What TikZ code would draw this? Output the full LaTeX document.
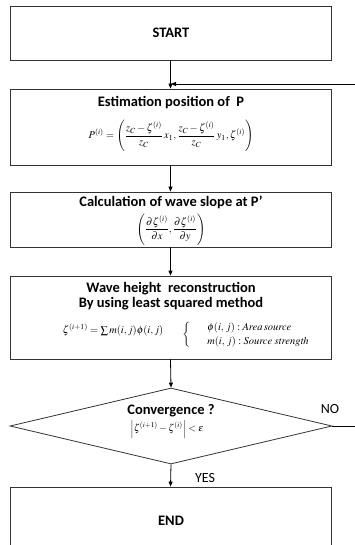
\documentclass[tikz,border=0pt]{standalone}
\usepackage{mathptmx}
\usepackage{amsmath}
\usepackage{fontspec}
\setmainfont{Carlito}
\usetikzlibrary{arrows.meta,shapes.geometric}
\begin{document}
\begin{tikzpicture}[x=1pt,y=-1pt,
  line width=0.8pt,
  box/.style={draw=black!80,rectangle,minimum width=321pt,inner sep=0pt},
  ttl/.style={font=\fontsize{14.5}{16}\selectfont\bfseries,inner sep=0pt},
  lbl/.style={font=\fontsize{14}{16}\selectfont,inner sep=0pt},
  mth/.style={font=\fontsize{10.5}{12.5}\selectfont,inner sep=0pt},
  arr/.style={draw=black,-{Triangle[length=5pt,width=4pt]}}]
\useasboundingbox (0,0) rectangle (355,545);
\clip (0,0) rectangle (355,545);
% boxes
\node[box,minimum height=54pt] (start) at (170.5,33) {};
\node[box,minimum height=76pt] (est) at (170.5,127) {};
\node[box,minimum height=55pt] (slope) at (170.5,219.5) {};
\node[box,minimum height=83pt] (wave) at (170.5,317.5) {};
\node[draw=black!80,diamond,minimum width=322pt,minimum height=76pt,inner sep=0pt] (conv) at (171,426) {};
\node[box,minimum height=80pt] (end) at (170.5,527) {};
% texts
\node[ttl] (tstart) at (171,33) {START};
\node[ttl] (test) at (171,103) {Estimation position of \ P};
\node[mth] (fest) at (171,136) {$P^{(i)}=\left(\dfrac{z_C-\zeta^{(i)}}{z_C}\,x_1,\dfrac{z_C-\zeta^{(i)}}{z_C}\,y_1,\zeta^{(i)}\right)$};
\node[ttl] (tslope) at (171,202.5) {Calculation of wave slope at P’};
\node[mth] (fslope) at (171,229.5) {$\left(\dfrac{\partial\zeta^{(i)}}{\partial x},\dfrac{\partial\zeta^{(i)}}{\partial y}\right)$};
\node[ttl] (twave1) at (171,288.5) {Wave height \ reconstruction};
\node[ttl] (twave2) at (171,304) {By using least squared method};
\node[mth] (fwave) at (113,330) {$\zeta^{(i+1)}=\sum m(i,j)\phi(i,j)$};
\node[mth,anchor=west] (fsrc) at (182,335) {$\left\{\hspace{12pt}\begin{array}{l}\phi(i,\,j):\mathit{Area\,source}\\[1pt] m(i,\,j):\mathit{Source\ strength}\end{array}\right.$};
\node[ttl] (tconv) at (171,410.5) {Convergence ?};
\node[mth,font=\fontsize{10}{12}\selectfont] (fconv) at (167,429) {$\left|\zeta^{(i+1)}-\zeta^{(i)}\right|<\varepsilon$};
\node[ttl] (tend) at (171,521) {END};
\node[lbl] (no) at (330,409) {NO};
\node[lbl] (yes) at (205,478) {YES};
% connectors
\coordinate (retin) at (356,84);
\coordinate (retjoin) at (171,84);
\coordinate (noout) at (356,426);
\draw[arr] (start.south) -- (est.north);
\draw[arr] (retin) -- (retjoin);
\draw[arr] (est.south) -- (slope.north);
\draw[arr] (slope.south) -- (wave.north);
\draw[arr] (wave.south) -- (conv.north);
\draw[arr] (conv.south) -- (end.north);
\draw (conv.east) -- (noout);
\end{tikzpicture}
\end{document}
